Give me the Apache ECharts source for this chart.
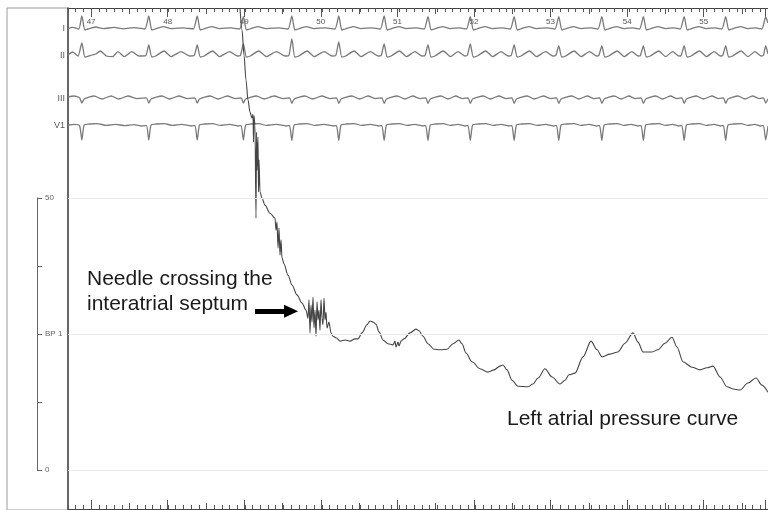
<!DOCTYPE html>
<html><head><meta charset="utf-8">
<script src="https://cdn.jsdelivr.net/npm/echarts@6/dist/echarts.min.js"></script>
<style>html,body{margin:0;padding:0;background:#fff}#c{width:768px;height:510px}</style>
</head><body><div id="c"></div>
<script>
// ---------- data ----------
const rulerSeconds = [47,48,49,50,51,52,53,54,55];
const leadNames = ['I','II','III','V1'];
const bpTickValues = [0,25,50];
const bpTickLabels = ['0','BP 1','50'];

// Left atrial / transseptal pressure trace (time in s, mmHg)
const pressureTime = [48.936,48.962,48.988,49.014,49.040,49.066,49.092,49.105,49.112,49.118,49.131,49.144,49.151,49.157,49.170,49.177,49.183,49.196,49.222,49.261,49.326,49.391,49.404,49.417,49.430,49.443,49.456,49.469,49.482,49.508,49.560,49.612,49.677,49.742,49.794,49.820,49.833,49.846,49.859,49.872,49.885,49.898,49.911,49.924,49.937,49.950,49.963,49.976,49.989,50.002,50.015,50.028,50.041,50.054,50.067,50.093,50.119,50.145,50.184,50.236,50.301,50.366,50.431,50.470,50.522,50.587,50.626,50.665,50.704,50.743,50.795,50.860,50.925,50.951,50.964,50.990,51.003,51.029,51.068,51.146,51.224,51.263,51.315,51.380,51.458,51.536,51.627,51.705,51.783,51.822,51.874,51.952,52.056,52.160,52.238,52.316,52.355,52.407,52.472,52.550,52.680,52.745,52.810,52.901,52.992,53.096,53.161,53.213,53.291,53.395,53.499,53.577,53.642,53.746,53.850,53.941,54.045,54.110,54.175,54.292,54.370,54.461,54.552,54.617,54.695,54.812,54.916,55.007,55.085,55.176,55.267,55.345,55.436,55.540,55.644,55.722,55.800];
const pressureValue = [84.9,80.9,76.3,71.7,68.0,65.8,64.7,65.4,60.3,65.1,63.4,46.3,62.1,55.1,61.2,51.1,57.0,51.1,50.0,48.7,47.2,46.3,44.1,45.6,40.8,44.5,39.5,42.3,39.0,37.9,35.8,34.0,32.2,30.7,29.4,27.9,31.3,25.2,30.3,27.2,31.8,26.1,29.4,24.6,30.9,27.6,29.4,25.7,31.3,27.9,26.7,31.6,27.6,29.0,26.1,27.2,25.2,24.6,24.3,23.7,23.9,23.7,24.1,24.1,25.2,26.7,27.4,27.2,26.8,25.4,23.9,23.2,23.0,23.7,22.6,23.5,22.8,23.7,24.1,25.2,25.9,25.6,24.6,23.2,22.2,22.1,22.2,23.2,23.9,23.2,21.5,19.9,18.6,18.0,18.4,19.1,19.3,18.4,16.5,15.4,15.3,15.8,16.9,18.6,17.1,15.8,16.5,17.5,17.8,20.8,23.7,22.1,20.8,21.3,21.7,23.3,25.2,23.5,21.7,21.7,22.1,23.3,24.4,22.6,19.9,18.9,18.4,18.8,19.1,17.1,15.3,14.9,14.7,16.0,16.9,15.6,14.3];

// ECG leads: [time s, mV]
const leadI = [[46.70,0.02],[46.76,0.08],[46.84,0],[46.88,0.65],[46.92,-0.05],[46.96,0],[47.06,0.1],[47.16,0.02],[47.30,0.08],[47.42,0.01],[47.56,0.07],[47.70,0],
[47.75,0.65],[47.79,-0.05],[47.83,0],[47.94,0.12],[48.04,0.02],[48.20,0.06],[48.33,0],
[48.38,0.65],[48.42,-0.05],[48.46,0],[48.57,0.12],[48.67,0.02],[48.82,0.06],[48.93,0],
[48.98,0.62],[49.02,-0.05],[49.06,0],[49.17,0.12],[49.27,0.02],[49.44,0.06],[49.56,0],
[49.61,0.65],[49.65,-0.05],[49.69,0],[49.80,0.12],[49.90,0.02],[50.05,0.06],[50.17,0],
[50.22,0.65],[50.26,-0.05],[50.30,0],[50.41,0.12],[50.51,0.02],[50.65,0.06],[50.76,0],
[50.81,0.65],[50.85,-0.05],[50.89,0],[51.00,0.12],[51.10,0.02],[51.23,0.06],[51.33,0],
[51.38,0.62],[51.42,-0.05],[51.46,0],[51.57,0.12],[51.67,0.02],[51.79,0.06],[51.88,0],
[51.93,0.62],[51.97,-0.05],[52.01,0],[52.12,0.12],[52.22,0.02],[52.35,0.06],[52.45,0],
[52.50,0.62],[52.54,-0.05],[52.58,0],[52.69,0.12],[52.79,0.02],[52.93,0.06],[53.03,0],
[53.08,0.62],[53.12,-0.05],[53.16,0],[53.27,0.12],[53.37,0.02],[53.50,0.06],[53.59,0],
[53.64,0.62],[53.68,-0.05],[53.72,0],[53.83,0.12],[53.93,0.02],[54.04,0.06],[54.13,0],
[54.18,0.62],[54.22,-0.05],[54.26,0],[54.37,0.12],[54.47,0.02],[54.58,0.06],[54.66,0],
[54.71,0.62],[54.75,-0.05],[54.79,0],[54.90,0.12],[55.00,0.02],[55.11,0.06],[55.20,0],
[55.25,0.62],[55.29,-0.05],[55.33,0],[55.44,0.12],[55.54,0.02],[55.64,0.06],[55.72,0],
[55.77,0.6],[55.80,0.3]];

const leadII = [[46.70,0.05],[46.76,0.2],[46.83,0],[46.88,0.65],[46.92,-0.05],[46.97,0],[47.06,0.1],[47.12,0.25],[47.20,0],[47.28,-0.03],[47.35,0.22],[47.43,-0.03],[47.53,0.22],[47.62,0],[47.71,0.02],
[47.75,0.55],[47.79,-0.05],[47.84,0],[47.95,0.25],[48.04,-0.03],[48.17,0.22],[48.28,0],[48.34,0.02],
[48.38,0.55],[48.42,-0.05],[48.47,0],[48.58,0.25],[48.67,-0.03],[48.80,0.22],[48.90,0],[48.94,0.02],
[48.98,0.6],[49.02,-0.05],[49.07,0],[49.18,0.25],[49.28,-0.03],[49.41,0.22],[49.52,0],[49.57,0.02],
[49.61,0.85],[49.65,-0.05],[49.70,0],[49.81,0.25],[49.90,-0.03],[50.03,0.22],[50.13,0],[50.18,0.02],
[50.22,0.7],[50.26,-0.05],[50.31,0],[50.42,0.25],[50.51,-0.03],[50.63,0.22],[50.73,0],[50.77,0.02],
[50.81,0.6],[50.85,-0.05],[50.90,0],[51.01,0.25],[51.10,-0.03],[51.21,0.22],[51.30,0],[51.34,0.02],
[51.38,0.55],[51.42,-0.05],[51.47,0],[51.58,0.25],[51.67,-0.03],[51.77,0.22],[51.86,0],[51.89,0.02],
[51.93,0.6],[51.97,-0.05],[52.02,0],[52.13,0.25],[52.22,-0.03],[52.33,0.22],[52.42,0],[52.46,0.02],
[52.50,0.55],[52.54,-0.05],[52.59,0],[52.70,0.25],[52.79,-0.03],[52.91,0.22],[53.00,0],[53.04,0.02],
[53.08,0.5],[53.12,-0.05],[53.17,0],[53.28,0.25],[53.37,-0.03],[53.48,0.22],[53.57,0],[53.60,0.02],
[53.64,0.5],[53.68,-0.05],[53.73,0],[53.84,0.25],[53.93,-0.03],[54.03,0.22],[54.11,0],[54.14,0.02],
[54.18,0.5],[54.22,-0.05],[54.27,0],[54.38,0.25],[54.47,-0.03],[54.56,0.22],[54.64,0],[54.67,0.02],
[54.71,0.5],[54.75,-0.05],[54.80,0],[54.91,0.25],[55.00,-0.03],[55.10,0.22],[55.18,0],[55.21,0.02],
[55.25,0.5],[55.29,-0.05],[55.34,0],[55.45,0.25],[55.54,-0.03],[55.63,0.22],[55.71,0],[55.74,0.02],
[55.77,0.5],[55.80,0.1]];

const leadIII = [[46.70,0.1],[46.78,0.15],[46.85,0.06],[46.88,-0.2],[46.91,0],[47.04,0.15],[47.14,0],[47.26,0.15],[47.36,0],[47.48,0.15],[47.60,0.02],[47.72,0.06],
[47.75,-0.2],[47.78,0],[47.92,0.15],[48.02,0],[48.14,0.15],[48.26,0.02],[48.35,0.06],
[48.38,-0.2],[48.41,0],[48.55,0.15],[48.65,0],[48.77,0.15],[48.88,0.02],[48.95,0.06],
[48.98,-0.2],[49.01,0],[49.15,0.15],[49.25,0],[49.38,0.15],[49.50,0.02],[49.58,0.06],
[49.61,-0.22],[49.64,0],[49.78,0.15],[49.88,0],[50.00,0.15],[50.11,0.02],[50.19,0.06],
[50.22,-0.22],[50.25,0],[50.39,0.15],[50.49,0],[50.60,0.15],[50.70,0.02],[50.78,0.06],
[50.81,-0.22],[50.84,0],[50.98,0.15],[51.08,0],[51.18,0.15],[51.28,0.02],[51.35,0.06],
[51.38,-0.22],[51.41,0],[51.55,0.15],[51.64,0],[51.74,0.15],[51.83,0.02],[51.90,0.06],
[51.93,-0.22],[51.96,0],[52.10,0.15],[52.19,0],[52.30,0.15],[52.40,0.02],[52.47,0.06],
[52.50,-0.22],[52.53,0],[52.67,0.15],[52.76,0],[52.88,0.15],[52.98,0.02],[53.05,0.06],
[53.08,-0.22],[53.11,0],[53.25,0.15],[53.34,0],[53.45,0.15],[53.54,0.02],[53.61,0.06],
[53.64,-0.22],[53.67,0],[53.80,0.15],[53.89,0],[53.99,0.15],[54.08,0.02],[54.15,0.06],
[54.18,-0.22],[54.21,0],[54.34,0.15],[54.43,0],[54.53,0.15],[54.62,0.02],[54.68,0.06],
[54.71,-0.22],[54.74,0],[54.87,0.15],[54.96,0],[55.07,0.15],[55.16,0.02],[55.22,0.06],
[55.25,-0.22],[55.28,0],[55.41,0.15],[55.50,0],[55.60,0.15],[55.69,0.02],[55.74,0.06],
[55.77,-0.2],[55.80,0]];

const leadV1 = [[46.70,0.05],[46.78,0.08],[46.85,0.02],[46.88,-0.7],[46.91,0.05],[46.98,0.1],[47.08,0.12],[47.20,0.03],[47.32,0.08],[47.44,0.02],[47.56,0.07],[47.66,0],[47.72,0.02],
[47.75,-0.7],[47.78,0.05],[47.85,0.1],[47.95,0.12],[48.06,0.03],[48.18,0.08],[48.30,0],[48.35,0.02],
[48.38,-0.7],[48.41,0.05],[48.48,0.1],[48.58,0.12],[48.68,0.03],[48.80,0.08],[48.91,0],[48.95,0.02],
[48.98,-0.7],[49.01,0.05],[49.08,0.1],[49.18,0.12],[49.28,0.03],[49.41,0.08],[49.54,0],[49.58,0.02],
[49.61,-0.72],[49.64,0.05],[49.71,0.1],[49.81,0.12],[49.91,0.03],[50.03,0.08],[50.15,0],[50.19,0.02],
[50.22,-0.72],[50.25,0.05],[50.32,0.1],[50.42,0.12],[50.52,0.03],[50.63,0.08],[50.74,0],[50.78,0.02],
[50.81,-0.72],[50.84,0.05],[50.91,0.1],[51.01,0.12],[51.11,0.03],[51.21,0.08],[51.31,0],[51.35,0.02],
[51.38,-0.72],[51.41,0.05],[51.48,0.1],[51.58,0.12],[51.67,0.03],[51.77,0.08],[51.86,0],[51.90,0.02],
[51.93,-0.72],[51.96,0.05],[52.03,0.1],[52.13,0.12],[52.23,0.03],[52.33,0.08],[52.43,0],[52.47,0.02],
[52.50,-0.72],[52.53,0.05],[52.60,0.1],[52.70,0.12],[52.80,0.03],[52.91,0.08],[53.01,0],[53.05,0.02],
[53.08,-0.72],[53.11,0.05],[53.18,0.1],[53.28,0.12],[53.37,0.03],[53.47,0.08],[53.57,0],[53.61,0.02],
[53.64,-0.72],[53.67,0.05],[53.74,0.1],[53.84,0.12],[53.93,0.03],[54.02,0.08],[54.11,0],[54.15,0.02],
[54.18,-0.72],[54.21,0.05],[54.28,0.1],[54.38,0.12],[54.47,0.03],[54.56,0.08],[54.64,0],[54.68,0.02],
[54.71,-0.72],[54.74,0.05],[54.81,0.1],[54.91,0.12],[55.00,0.03],[55.10,0.08],[55.18,0],[55.22,0.02],
[55.25,-0.72],[55.28,0.05],[55.35,0.1],[55.45,0.12],[55.54,0.03],[55.63,0.08],[55.70,0],[55.74,0.02],
[55.77,-0.7],[55.80,0]];

// annotation anchors (data coordinates: s, mmHg)
const arrowFrom = [49.131, 29.2];
const arrowTo = [49.600, 29.2];

// ---------- layout / styling ----------
const T0 = 46.7, T1 = 55.8;
const FONT = 'Liberation Sans';
const leadColor = '#7a7a7a';
// lead axis ranges (mV) putting each baseline at its row
const leadRanges = [[-24.0, 1.05], [-22.65, 2.4], [-20.5, 4.55], [-19.15, 5.9]];

const isSecond = v => rulerSeconds.some(s => Math.abs(s - v) < 1e-6);

function rulerAxis(grid, pos, interval, len, min, withLabels, withLine) {
  return {
    type: 'value', gridIndex: grid, position: pos, min: min, max: T1, interval: interval,
    axisLine: { show: withLine, onZero: false, lineStyle: { color: '#444', width: 1 } },
    axisTick: { show: true, inside: true, length: len, lineStyle: { color: '#555', width: 1 } },
    axisLabel: withLabels ? { show: true, inside: true, margin: 10, fontSize: 8, color: '#555', fontFamily: FONT,
      formatter: v => isSecond(v) ? String(Math.round(v)) : '' } : { show: false },
    splitLine: { show: false }
  };
}

const xAxes = [
  rulerAxis(0, 'top', 0.1, 4, T0, false, true),
  rulerAxis(0, 'bottom', 0.1, 4, T0, false, true),
  rulerAxis(1, 'top', 0.5, 6, 47, false, false),
  rulerAxis(1, 'top', 1, 9, 47, true, false),
  rulerAxis(1, 'bottom', 0.5, 6, 47, false, false),
  rulerAxis(1, 'bottom', 1, 9, 47, false, false),
  { type: 'value', gridIndex: 2, show: false, min: 0, max: 1 },
  { type: 'value', gridIndex: 3, show: false, min: 0, max: 1 }
];

const yAxes = [
  { type: 'value', gridIndex: 0, position: 'left', min: -7.17, max: 84.93,
    axisLine: { show: true, onZero: false, lineStyle: { color: '#444', width: 1.5 } },
    axisTick: { show: false }, axisLabel: { show: false }, splitLine: { show: false } }
];
leadNames.forEach((name, i) => {
  const r = leadRanges[i];
  yAxes.push({ type: 'value', gridIndex: 0, position: 'left', min: r[0], max: r[1], interval: -r[0],
    axisLine: { show: false, onZero: false }, axisTick: { show: false }, splitLine: { show: false },
    axisLabel: { show: true, margin: 3, fontSize: 9, color: '#555', fontFamily: FONT,
      formatter: v => Math.abs(v) < 1e-6 ? name : '' } });
});
yAxes.push({ type: 'value', gridIndex: 1, show: false, min: 0, max: 1 });
yAxes.push({ type: 'value', gridIndex: 2, position: 'left', min: 0, max: 50, interval: 12.5,
  axisLine: { show: true, onZero: false, lineStyle: { color: '#666', width: 1 } },
  axisTick: { show: true, inside: true, length: 5, lineStyle: { color: '#666' } },
  axisLabel: { show: true, inside: true, margin: 8, fontSize: 8, color: '#666', fontFamily: FONT,
    formatter: v => { const k = bpTickValues.findIndex(b => Math.abs(b - v) < 1e-6); return k >= 0 ? bpTickLabels[k] : ''; } },
  splitLine: { show: false } });
yAxes.push({ type: 'value', gridIndex: 3, show: false, min: 0, max: 1 });

const leadData = [leadI, leadII, leadIII, leadV1];
const series = [
  { type: 'line', name: 'grid', xAxisIndex: 0, yAxisIndex: 0, data: [], z: 1, silent: true,
    markLine: { silent: true, symbol: 'none', label: { show: false },
      lineStyle: { color: '#e9e9e9', width: 1, type: 'solid' },
      data: bpTickValues.map(v => ({ yAxis: v })) } }
];
leadData.forEach((d, i) => series.push({
  type: 'line', name: leadNames[i], xAxisIndex: 0, yAxisIndex: i + 1, data: d,
  showSymbol: false, smooth: 0.2, z: 3, lineStyle: { color: leadColor, width: 1.3 }
}));
series.push({
  type: 'line', name: 'BP 1', xAxisIndex: 0, yAxisIndex: 0,
  data: pressureTime.map((t, i) => [t, pressureValue[i]]),
  showSymbol: false, smooth: 0.3, smoothMonotone: 'x', z: 4, lineStyle: { color: '#454545', width: 1.1 }
});
series.push({
  type: 'line', name: 'arrow', xAxisIndex: 0, yAxisIndex: 0, data: [], z: 5,
  markLine: { silent: true, label: { show: false }, animation: false,
    lineStyle: { color: '#000', width: 5, type: 'solid', cap: 'butt' },
    data: [[{ coord: arrowFrom, symbol: 'none' }, { coord: arrowTo, symbol: 'triangle', symbolSize: [13, 14] }]] }
});

const chart = echarts.init(document.getElementById('c'), null, { renderer: 'canvas' });
chart.setOption({
  animation: false,
  backgroundColor: '#fff',
  grid: [
    { left: 68, right: 0, top: 8, bottom: 1 },
    { left: 68 + 0.3 * 700 / (T1 - T0), right: 0, top: 8, bottom: 1 },
    { left: 37, width: 30, top: 198, bottom: 40 },
    { left: 7, width: 61, top: 8, bottom: -10, show: true, borderColor: '#9a9a9a', borderWidth: 1, backgroundColor: 'transparent' }
  ],
  xAxis: xAxes,
  yAxis: yAxes,
  series: series,
  graphic: [
    { type: 'text', left: 87, top: 266, silent: true,
      style: { text: 'Needle crossing the\ninteratrial septum', font: '21px "Liberation Sans"', fill: '#1a1a1a', lineHeight: 25.7 } },
    { type: 'text', left: 507, top: 409, silent: true,
      style: { text: 'Left atrial pressure curve', font: '21px "Liberation Sans"', fill: '#1a1a1a' } }
  ]
});
</script>
</body></html>
